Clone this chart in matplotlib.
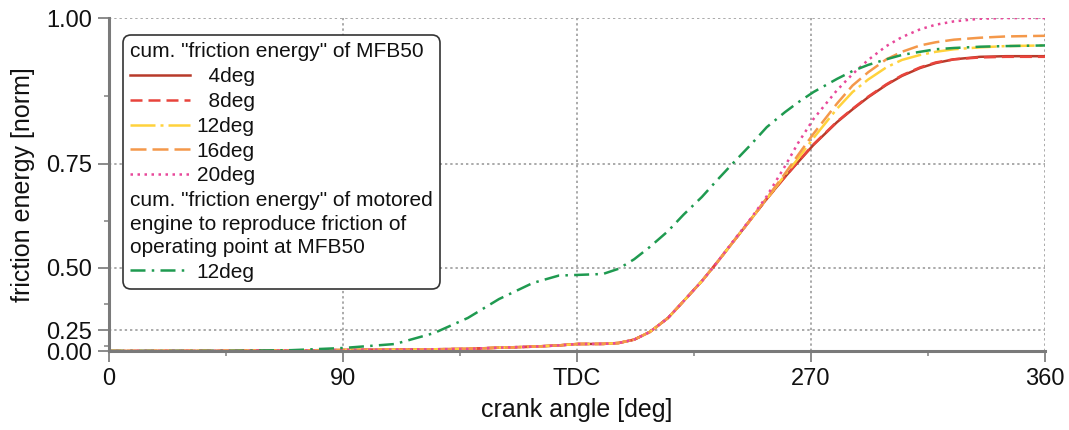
import matplotlib
matplotlib.use("Agg")
import matplotlib.pyplot as plt
import numpy as np
from matplotlib.lines import Line2D
from matplotlib.ticker import FixedLocator

plt.rcParams['font.family'] = ['Liberation Sans', 'DejaVu Sans']

# crank angle [deg] and cumulative friction energy [norm]
angle = [0, 45, 70, 90, 110, 125, 138, 150, 163, 173, 180, 190, 196, 202, 208,
         215, 221, 228, 234, 240, 247, 253, 260, 265, 271, 280, 286, 292, 299,
         305, 312, 318, 325, 335, 345, 360]

fe_4deg = [0.0, 0.02, 0.04, 0.055, 0.065, 0.072, 0.08, 0.1, 0.114, 0.13, 0.145, 0.146,
           0.155, 0.185, 0.239, 0.315, 0.387, 0.458, 0.517, 0.572, 0.630, 0.676, 0.723, 0.753,
           0.787, 0.829, 0.852, 0.873, 0.894, 0.909, 0.922, 0.930, 0.936, 0.940, 0.941, 0.941]
fe_8deg = [0.0, 0.02, 0.04, 0.055, 0.065, 0.072, 0.08, 0.1, 0.114, 0.13, 0.145, 0.146,
           0.155, 0.185, 0.239, 0.315, 0.387, 0.458, 0.517, 0.572, 0.630, 0.676, 0.723, 0.754,
           0.788, 0.830, 0.853, 0.874, 0.895, 0.910, 0.923, 0.931, 0.936, 0.939, 0.940, 0.940]
fe_12deg = [0.0, 0.02, 0.04, 0.055, 0.065, 0.072, 0.08, 0.1, 0.114, 0.13, 0.145, 0.146,
            0.155, 0.185, 0.239, 0.315, 0.387, 0.458, 0.517, 0.572, 0.630, 0.676, 0.727, 0.760,
            0.800, 0.853, 0.882, 0.903, 0.923, 0.935, 0.943, 0.948, 0.952, 0.955, 0.957, 0.958]
fe_16deg = [0.0, 0.02, 0.04, 0.055, 0.065, 0.072, 0.08, 0.1, 0.114, 0.13, 0.145, 0.146,
            0.155, 0.185, 0.239, 0.315, 0.387, 0.458, 0.517, 0.572, 0.630, 0.678, 0.730, 0.767,
            0.808, 0.862, 0.893, 0.915, 0.936, 0.948, 0.958, 0.963, 0.967, 0.970, 0.972, 0.973]
fe_20deg = [0.0, 0.02, 0.04, 0.055, 0.065, 0.072, 0.08, 0.1, 0.114, 0.13, 0.145, 0.146,
            0.155, 0.185, 0.239, 0.315, 0.387, 0.458, 0.517, 0.574, 0.632, 0.682, 0.745, 0.790,
            0.835, 0.885, 0.912, 0.935, 0.957, 0.971, 0.983, 0.990, 0.995, 0.999, 1.0, 1.0]
fe_motored = [0.0, 0.02, 0.05, 0.095, 0.145, 0.232, 0.315, 0.395, 0.452, 0.476, 0.478, 0.481,
              0.497, 0.525, 0.559, 0.600, 0.640, 0.680, 0.717, 0.751, 0.788, 0.820, 0.847, 0.864,
              0.882, 0.904, 0.917, 0.927, 0.936, 0.943, 0.948, 0.952, 0.954, 0.956, 0.957, 0.958]

x_ticks = [0, 90, 180, 270, 360]
x_labels = ['0', '90', 'TDC', '270', '360']
y_ticks = [0.0, 0.25, 0.5, 0.75, 1.0]
y_labels = ['0.00', '0.25', '0.50', '0.75', '1.00']

fig = plt.figure(figsize=(10.69, 4.3), dpi=100)
ax = fig.add_axes([0.102, 0.1837, 0.8755, 0.7743])

lw = 1.8
l4, = ax.plot(angle, fe_4deg, color='#b83a2a', lw=lw, linestyle='-')
l8, = ax.plot(angle, fe_8deg, color='#e8443c', lw=lw, linestyle=(0, (4.8, 2.4)))
l12, = ax.plot(angle, fe_12deg, color='#ffd23c', lw=lw, linestyle=(0, (10, 2, 1.2, 2)))
l16, = ax.plot(angle, fe_16deg, color='#f4984a', lw=lw, linestyle=(0, (6.4, 2.4)))
l20, = ax.plot(angle, fe_20deg, color='#e8489a', lw=lw, linestyle=(0, (1, 1.8)))
lmot, = ax.plot(angle, fe_motored, color='#1f9a50', lw=lw, linestyle=(0, (6, 2.5, 1, 2.5)))

# y axis is drawn on a squared scale
ax.set_yscale('function', functions=(lambda v: np.square(v),
                                     lambda v: np.sqrt(np.clip(v, 0, None))))
ax.set_xlim(0, 360)
ax.set_ylim(0, 1)

ax.xaxis.set_major_locator(FixedLocator(x_ticks))
ax.set_xticklabels(x_labels)
ax.xaxis.set_minor_locator(FixedLocator([45, 135, 225, 315]))
ax.yaxis.set_major_locator(FixedLocator(y_ticks))
ax.set_yticklabels(y_labels)
ax.yaxis.set_minor_locator(FixedLocator([0.125, 0.375, 0.625, 0.875]))

ax.tick_params(which='major', direction='out', length=8, width=1.4, color='#8a8a8a',
               labelsize=17, pad=4, labelcolor='#111111')
ax.tick_params(which='minor', direction='out', length=3.5, width=1.2, color='#8a8a8a')

ax.grid(which='major', color='#aaaaaa', linestyle=(0, (1.2, 1.5)), linewidth=1.4)
for s in ('top', 'right'):
    ax.spines[s].set_visible(False)
for s in ('left', 'bottom'):
    ax.spines[s].set_color('#7a7a7a')
    ax.spines[s].set_linewidth(2.2)

ax.set_xlabel('crank angle [deg]', fontsize=18, labelpad=6, color='#111111')
ax.set_ylabel('friction energy [norm]', fontsize=18, labelpad=8, color='#111111')

blank = Line2D([], [], linestyle='none')
handles = [blank, l4, l8, l12, l16, l20, blank, lmot]
labels = ['cum. "friction energy" of MFB50', '  4deg', '  8deg', '12deg', '16deg', '20deg',
          'cum. "friction energy" of motored\nengine to reproduce friction of\noperating point at MFB50',
          '12deg']
leg = ax.legend(handles, labels, loc='upper left', bbox_to_anchor=(0.015, 0.949),
                borderaxespad=0, fontsize=15, handlelength=2.86, handletextpad=0.33,
                labelspacing=0.28, borderpad=0.35, framealpha=1, fancybox=True)
leg.get_frame().set_edgecolor('#333333')
leg.get_frame().set_linewidth(1.2)
leg.legendPatch.set_boxstyle('round,pad=0,rounding_size=0.4')
for t in leg.get_texts():
    t.set_color('#111111')
    t.set_linespacing(1.28)
# header rows start at the left edge, without handle space
header_rows = [0, 6]
rows = [r for col in leg._legend_handle_box.get_children() for r in col.get_children()]
for i in header_rows:
    rows[i].sep = 0
    rows[i].get_children()[0].width = 0

fig.savefig('out.png', dpi=100)
